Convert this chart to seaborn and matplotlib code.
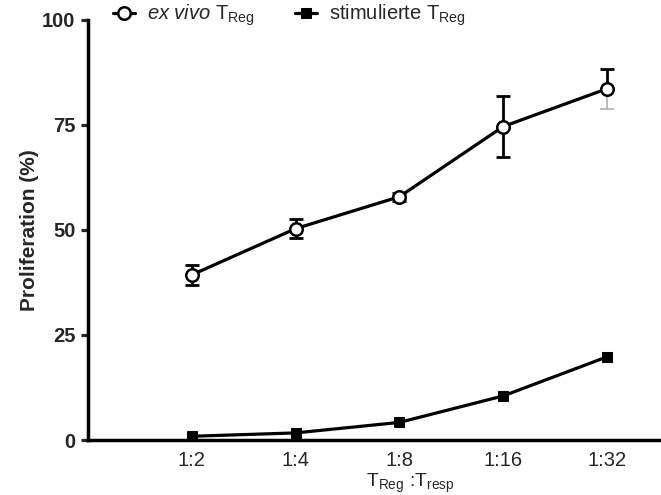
import numpy as np
import pandas as pd
import matplotlib
matplotlib.use("Agg")
import matplotlib.pyplot as plt
import seaborn as sns

# data
ratios = ["1:2", "1:4", "1:8", "1:16", "1:32"]
exvivo = [39.3, 50.3, 57.9, 74.6, 83.6]
exvivo_err = [2.4, 2.2, 1.0, 7.2, 4.8]
stim = [0.9, 1.7, 4.2, 10.5, 19.8]

sns.set_style("white")
plt.rcParams["font.family"] = ["Liberation Sans", "DejaVu Sans"]
plt.rcParams["mathtext.fontset"] = "custom"
plt.rcParams["mathtext.rm"] = "Liberation Sans"
plt.rcParams["mathtext.it"] = "Liberation Sans:italic"

pos = np.arange(1, len(ratios) + 1)
df = pd.DataFrame({"pos": np.concatenate([pos, pos]),
                   "value": exvivo + stim,
                   "group": ["ex"] * 5 + ["stim"] * 5})

fig = plt.figure(figsize=(6.61, 4.95), dpi=100)
ax = fig.add_axes([0.133, 0.111, 0.867, 0.849])

ax.errorbar(pos[:-1], exvivo[:-1], yerr=exvivo_err[:-1], fmt="none",
            ecolor="black", elinewidth=2, capsize=5, capthick=2, zorder=2)
# last point: upper bar black, lower bar grey
ax.errorbar(pos[-1:], exvivo[-1:], yerr=[[0], exvivo_err[-1:]], fmt="none",
            ecolor="black", elinewidth=2, capsize=5, capthick=2, zorder=2)
ax.errorbar(pos[-1:], exvivo[-1:], yerr=[exvivo_err[-1:], [0]], fmt="none",
            ecolor="#b0b0b0", elinewidth=1.2, capsize=5, capthick=1.2, zorder=2)

sns.lineplot(data=df[df.group == "ex"], x="pos", y="value", ax=ax,
             color="black", lw=2.3, marker="o", markersize=9,
             markerfacecolor="white", markeredgecolor="black", markeredgewidth=1.8,
             label=r"$\it{ex\ vivo}$ T$_{\mathrm{Reg}}$", zorder=3)
sns.lineplot(data=df[df.group == "stim"], x="pos", y="value", ax=ax,
             color="black", lw=2.3, marker="s", markersize=7.5,
             markerfacecolor="black", markeredgecolor="black",
             label=r"stimulierte T$_{\mathrm{Reg}}$", zorder=3)

ax.set_xlim(0, 5.52)
ax.set_ylim(0, 100)
ax.set_xticks(pos)
ax.set_xticklabels(ratios, fontsize=14.5)
ax.set_yticks([0, 25, 50, 75, 100])
ax.set_yticklabels(["0", "25", "50", "75", "100"], fontsize=14.5, fontweight="bold")
ax.tick_params(axis="y", direction="out", length=5, width=2.3, left=True, pad=4)
ax.tick_params(axis="x", length=0, pad=8)
ax.set_xlabel(r"T$_{\mathrm{Reg}}$ :T$_{\mathrm{resp}}$", fontsize=14, labelpad=1)
ax.xaxis.set_label_coords(0.562, -0.075)
ax.set_ylabel("Proliferation (%)", fontsize=15, fontweight="bold", labelpad=2)

sns.despine(ax=ax)
for s in ["left", "bottom"]:
    ax.spines[s].set_linewidth(2.5)
    ax.spines[s].set_color("black")

ax.legend(loc="center left", bbox_to_anchor=(0.043, 1.01), ncol=2, frameon=False,
          fontsize=14.5, handlelength=1.1, handletextpad=0.6, columnspacing=2.0,
          borderaxespad=0, borderpad=0)

fig.savefig("out.png", dpi=100)
